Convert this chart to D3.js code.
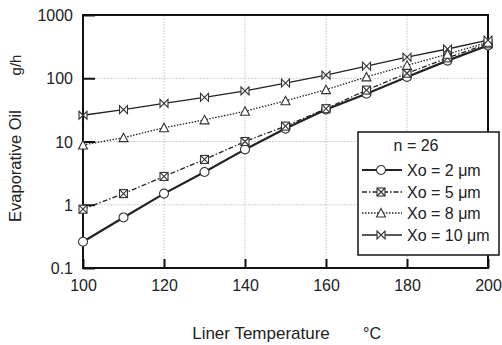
<!DOCTYPE html>
<html><head><meta charset="utf-8">
<script src="https://cdn.jsdelivr.net/npm/d3@7"></script>
<style>body{margin:0;background:#fff}svg{display:block}text{font-family:"Liberation Sans",Arial,sans-serif;fill:#222}</style>
</head><body><svg id="c" width="502" height="345"></svg>
<script>
const temps = [100,110,120,130,140,150,160,170,180,190,200];
const xo2  = [0.26,0.63,1.5,3.3,7.5,16,32,57,105,190,330];
const xo5  = [0.85,1.5,2.8,5.2,10,17.5,33,65,120,210,350];
const xo8  = [8.8,11.5,16.5,22,30,44,66,105,160,240,370];
const xo10 = [26,32,40,50,63,84,112,155,215,290,400];
const seriesNames = ["Xo = 2 \u03bcm","Xo = 5 \u03bcm","Xo = 8 \u03bcm","Xo = 10 \u03bcm"];
const xTicks = [100,120,140,160,180,200];
const yTicks = [0.1,1,10,100,1000];

const svg = d3.select("#c");
const L=83,R=488,T=15,B=268;
const x = d3.scaleLinear().domain([100,200]).range([L,R]);
const y = d3.scaleLog().domain([0.1,1000]).range([B,T]);
const FS = 16;

// grid
const g = svg.append("g");
g.selectAll(".gx").data(xTicks.slice(1,-1)).enter().append("line")
 .attr("x1",d=>x(d)).attr("x2",d=>x(d)).attr("y1",T).attr("y2",B)
 .attr("stroke","#d0d0d0").attr("stroke-width",1).attr("stroke-dasharray","2,1");
g.selectAll(".gy").data(yTicks.slice(1,-1)).enter().append("line")
 .attr("y1",d=>y(d)).attr("y2",d=>y(d)).attr("x1",L).attr("x2",R)
 .attr("stroke","#d0d0d0").attr("stroke-width",1).attr("stroke-dasharray","2,1");

// axes
const ax = d3.axisBottom(x).tickValues(xTicks).tickSizeInner(-9).tickSizeOuter(0).tickPadding(12).tickFormat(d3.format("d"));
const ay = d3.axisLeft(y).tickValues(yTicks).tickSizeInner(-12).tickSizeOuter(0).tickPadding(10).tickFormat(d=>String(d));
const gx = svg.append("g").attr("transform",`translate(0,${B})`).call(ax);
const gy = svg.append("g").attr("transform",`translate(${L},0)`).call(ay);
[gx,gy].forEach(a=>{a.select(".domain").remove();a.selectAll("line").attr("stroke","#111").attr("stroke-width",2);
 a.selectAll("text").attr("font-size",FS).style("font-family","Liberation Sans, Arial, sans-serif").attr("fill","#222");});
gy.selectAll("text").attr("dy","0.35em");

// frame
svg.append("rect").attr("x",L).attr("y",T).attr("width",R-L).attr("height",B-T)
 .attr("fill","none").attr("stroke","#111").attr("stroke-width",2);

// series
const data = [xo2,xo5,xo8,xo10];
const styles = [
 {w:2.2,dash:null},
 {w:1.3,dash:"5,2,1.5,2"},
 {w:1.3,dash:"1.5,1.5"},
 {w:1.3,dash:null}
];
const line = d3.line().x((d,i)=>x(temps[i])).y(d=>y(d));
function marker(sel,k){
  if(k===0) sel.append("circle").attr("r",4.5);
  else if(k===1){ sel.append("rect").attr("x",-4).attr("y",-4).attr("width",8).attr("height",8);
    sel.append("path").attr("d","M-4,-4L4,4M4,-4L-4,4"); }
  else if(k===2) sel.append("path").attr("d","M0,-4.5L4.5,4L-4.5,4Z");
  else { sel.append("path").attr("d","M-4,-4L4,4L4,-4L-4,4Z"); }
  sel.selectAll("*").attr("fill","#fff").attr("stroke","#333").attr("stroke-width",1.1);
}
data.forEach((vals,k)=>{
  svg.append("path").datum(vals).attr("d",line).attr("fill","none").attr("stroke","#222")
   .attr("stroke-width",styles[k].w).attr("stroke-dasharray",styles[k].dash);
});
data.forEach((vals,k)=>{
  svg.selectAll(".m"+k).data(vals).enter().append("g")
   .attr("transform",(d,i)=>`translate(${x(temps[i])},${y(d)})`).each(function(){marker(d3.select(this),k);});
});

// legend
const lg = svg.append("g");
lg.append("rect").attr("x",358).attr("y",132).attr("width",141).attr("height",123)
 .attr("fill","#fff").attr("stroke","#222").attr("stroke-width",1.6);
lg.append("text").attr("x",416).attr("y",151).attr("text-anchor","middle").attr("font-size",FS).text("n = 26");
const ly=[170,192,213,235];
seriesNames.forEach((nm,k)=>{
  lg.append("line").attr("x1",362).attr("x2",402).attr("y1",ly[k]).attr("y2",ly[k])
   .attr("stroke","#222").attr("stroke-width",styles[k].w).attr("stroke-dasharray",styles[k].dash);
  const m = lg.append("g").attr("transform",`translate(381,${ly[k]})`); marker(m,k);
  lg.append("text").attr("x",407).attr("y",ly[k]+5.5).attr("font-size",FS).text(nm);
});

// axis titles
svg.append("text").attr("transform","translate(21,166) rotate(-90)").attr("text-anchor","middle").attr("font-size",16.5).text("Evaporative Oil");
svg.append("text").attr("transform","translate(21,65) rotate(-90)").attr("text-anchor","middle").attr("font-size",15).text("g/h");
svg.append("text").attr("x",261).attr("y",339).attr("text-anchor","middle").attr("font-size",17).text("Liner Temperature");
svg.append("text").attr("x",372).attr("y",339).attr("text-anchor","middle").attr("font-size",16).text("\u00b0C");
</script></body></html>
